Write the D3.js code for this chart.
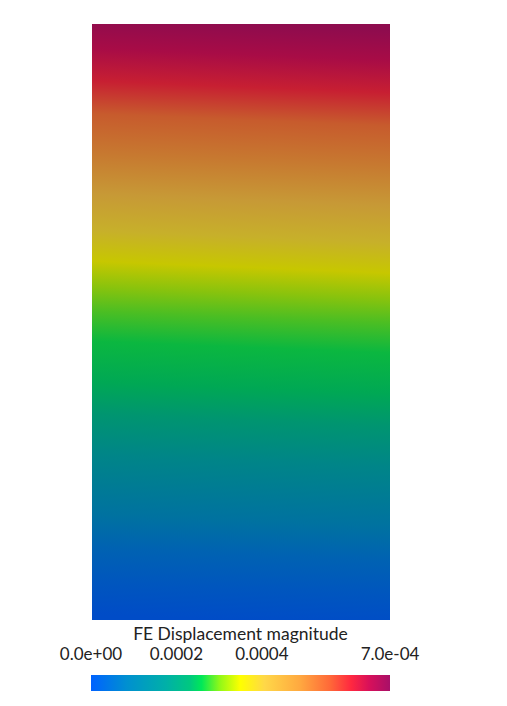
<!DOCTYPE html>
<html><head><meta charset="utf-8">
<script src="https://cdn.jsdelivr.net/npm/d3@7"></script>
<style>html,body{margin:0;padding:0;background:#fff;}svg{display:block;}</style>
</head><body>
<script>
// Colormap (fraction of range -> colour) used by the colour bar
const cmapPos = [0, 0.12, 0.25, 0.33, 0.37, 0.43, 0.5, 0.58, 0.7, 0.8, 0.87, 0.93, 1];
const cmapColors = ["#0062ff","#0090d0","#00b0a8","#00c880","#00e858","#90f818","#ffff00","#ffd848","#ffa840","#ff6838","#ff2840","#d8105a","#a81068"];
// Displacement magnitude (x1e-4) sampled along the height of the body (0 = bottom, 1 = top)
const heightFrac = [0, 0.055, 0.112, 0.168, 0.268, 0.336, 0.39, 0.458, 0.508, 0.549, 0.592, 0.643, 0.705, 0.772, 0.839, 0.894, 0.948, 1.0];
const dispE4 = [0, 0.21, 0.49, 0.91, 1.61, 2.1, 2.45, 2.63, 2.87, 3.15, 3.5, 3.92, 4.41, 5.04, 5.46, 6.09, 6.51, 6.86];
const rangeMin = 0, rangeMax = 7e-4;
const tickValues = [0.0002, 0.0004];
const title = "FE Displacement magnitude";

const W = 507, H = 706;
const svg = d3.select("body").append("svg").attr("width", W).attr("height", H);
const defs = svg.append("defs");

const color = d3.scaleLinear()
  .domain(cmapPos.map(p => rangeMin + p * (rangeMax - rangeMin)))
  .range(cmapColors).interpolate(d3.interpolateRgb).clamp(true);
const shade = 0.78;
const lit = v => { const c = d3.rgb(color(v)); return d3.rgb(c.r*shade, c.g*shade, c.b*shade).formatHex(); };

// Body
const bx = d3.scaleLinear().domain([0,1]).range([92, 390]);
const by = d3.scaleLinear().domain([0,1]).range([620, 24]);
const tilt = 0.04;
const cx = (bx(0)+bx(1))/2, bh = by(0)-by(1);
const g1 = defs.append("linearGradient").attr("id","body").attr("gradientUnits","userSpaceOnUse")
  .attr("x1", cx - tilt*bh/2).attr("y1", by(0))
  .attr("x2", cx + tilt*bh/2).attr("y2", by(1));
heightFrac.forEach((h,i) => {
  g1.append("stop").attr("offset", h).attr("stop-color", lit(dispE4[i]*1e-4));
});
svg.append("rect").attr("x", bx(0)).attr("y", by(1))
  .attr("width", bx(1)-bx(0)).attr("height", by(0)-by(1)).attr("fill","url(#body)");

// Colour bar
const cbx = d3.scaleLinear().domain([rangeMin, rangeMax]).range([91, 390]);
const g2 = defs.append("linearGradient").attr("id","cbar").attr("x1",0).attr("x2",1).attr("y1",0).attr("y2",0);
cmapPos.forEach((p,i) => g2.append("stop").attr("offset", p).attr("stop-color", cmapColors[i]));
svg.append("rect").attr("x", cbx(rangeMin)).attr("y", 675)
  .attr("width", cbx(rangeMax)-cbx(rangeMin)).attr("height", 16).attr("fill","url(#cbar)");

const font = "Lato, 'DejaVu Sans', sans-serif";
svg.append("text").attr("x", cbx((rangeMin+rangeMax)/2)).attr("y", 640)
  .attr("text-anchor","middle").attr("font-family", font).attr("font-size", 17.5)
  .attr("fill","#222").text(title);

const labels = [{v:rangeMin, t:d3.format(".1e")(rangeMin).replace("e+0","e+00")},
  ...tickValues.map(v => ({v, t:d3.format(".4f")(v)})),
  {v:rangeMax, t:d3.format(".1e")(rangeMax).replace("e-4","e-04")}];
svg.selectAll("text.tick").data(labels).join("text").attr("class","tick")
  .attr("x", d => cbx(d.v)).attr("y", 660).attr("text-anchor","middle")
  .attr("font-family", font).attr("font-size", 17)
  .attr("fill","#222").text(d => d.t);
</script>
</body></html>
